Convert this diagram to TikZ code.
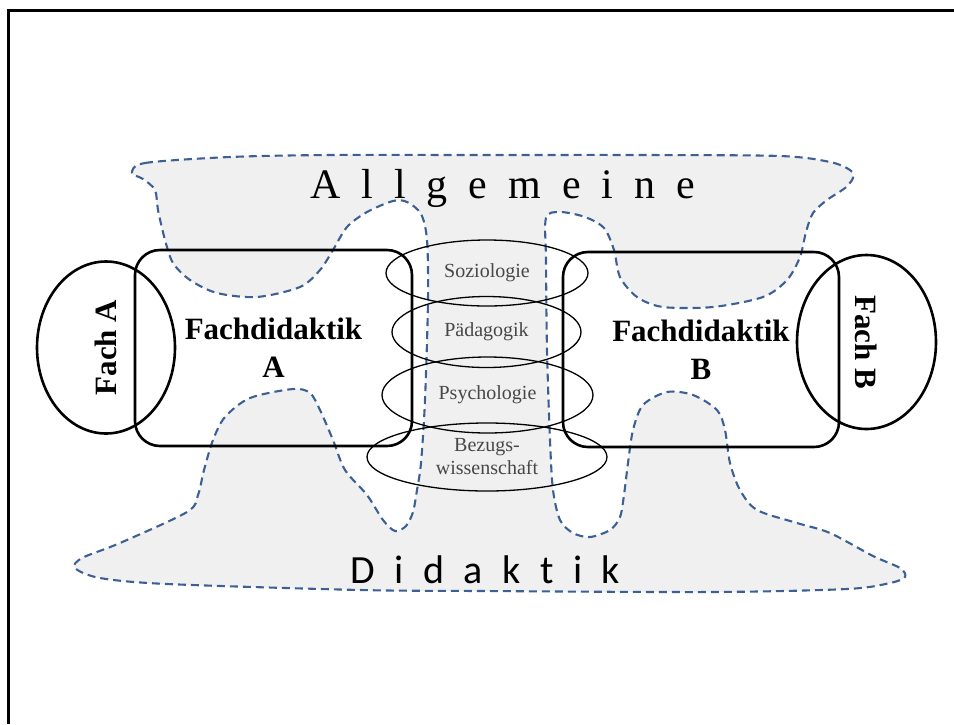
\documentclass[tikz,border=0pt]{standalone}
\usepackage{fontspec}
\setmainfont{Liberation Serif}
\newfontfamily\spreadserif[LetterSpace=50]{Liberation Serif}
\newfontfamily\spreadsans[LetterSpace=49,Ligatures=CommonOff]{Carlito}
\usetikzlibrary{shapes.geometric}
\definecolor{blx}{RGB}{60,96,148}
\colorlet{fgx}{black!6}
\colorlet{txg}{black!72}
\tikzset{
    fachbox/.style={draw,line width=2.6pt,rounded corners=25pt,inner sep=0pt,align=center,
        font=\bfseries\fontsize{31}{38}\selectfont},
    fachoval/.style={draw,ellipse,line width=2.6pt,inner sep=0pt,
        font=\bfseries\fontsize{31}{38}\selectfont},
    wissoval/.style={draw=black,text=txg,ellipse,line width=1.3pt,inner sep=0pt,align=center,
        font=\fontsize{20}{23}\selectfont},
    blobline/.style={blx,fill=fgx,line width=2.1pt,dash pattern=on 8pt off 5pt}
}

\begin{document}
\begin{tikzpicture}[x=1pt,y=-1pt]
    \useasboundingbox (0,0) rectangle (954,724);
    \draw [line width=3pt] (954,10) -- (8,10) -- (8,724);
    % Allgemeine / Didaktik
    \draw [blobline] plot [smooth cycle,tension=0.5] coordinates {
        (132,173) (145,163) (230,157) (330,155) (480,155) (640,155) (780,156)
        (830,162) (850,170) (853,178) (845,188) (827,200) (813,213) (806,232)
        (800,257) (787,280) (763,297) (713,307) (663,307) (637,297) (620,277)
        (614,250) (604,228) (585,217) (560,212) (546,218) (546,260) (547,350)
        (550,440) (553,490) (560,520) (573,533) (590,537) (610,530) (620,517)
        (624,495) (628,463) (633,430) (643,405) (667,392) (693,395) (717,410)
        (725,430) (730,463) (740,490) (757,510) (797,523) (830,533) (873,556)
        (900,568) (905,577) (890,583) (847,589) (713,592) (480,591) (360,590)
        (167,584) (100,578) (75,568) (82,558) (120,543) (187,512) (198,495)
        (204,470) (213,440) (225,417) (250,398) (293,389) (310,393) (320,410)
        (333,440) (345,470) (367,495) (383,520) (395,531) (406,526) (413,512)
        (417,490) (421,463) (425,400) (428,300) (427,240) (421,214) (407,202)
        (393,201) (367,212) (347,227) (333,250) (320,270) (300,287) (257,297)
        (217,293) (190,280) (173,263) (165,240) (158,210) (155,190) (143,179)
    };
    \node [anchor=base west,inner sep=0pt,font=\spreadserif\fontsize{42}{48}\selectfont]
        (allg) at (310,198) {Allgemeine};
    \node [anchor=base west,inner sep=0pt,font=\spreadsans\fontsize{40}{46}\selectfont]
        (dida) at (350,583) {Didaktik};
    % Bezugsdisziplinen
    \node [wissoval,minimum width=202pt,minimum height=66pt] (soz) at (487,273) {Soziologie};
    \node [wissoval,minimum width=189pt,minimum height=71pt] (paed) at (486.5,332) {Pädagogik};
    \node [wissoval,minimum width=211pt,minimum height=76pt] (psy) at (487.5,395) {Psychologie};
    \node [wissoval,minimum width=240pt,minimum height=68pt] (bezug) at (487,457) {Bezugs-\\wissenschaft};
    % Fachdidaktiken und Faecher
    \node [fachbox,minimum width=277pt,minimum height=196pt] (fdA) at (273.5,348) {Fachdidaktik\\A};
    \node [fachbox,minimum width=276pt,minimum height=195pt] (fdB) at (701,349.5) {Fachdidaktik\\B};
    \node [fachoval,minimum width=172pt,minimum height=138pt,rotate=90] (fachA) at (106,347.5) {Fach A};
    \node [fachoval,minimum width=174pt,minimum height=139pt,rotate=-90] (fachB) at (866.5,342) {Fach B};
\end{tikzpicture}
\end{document}
